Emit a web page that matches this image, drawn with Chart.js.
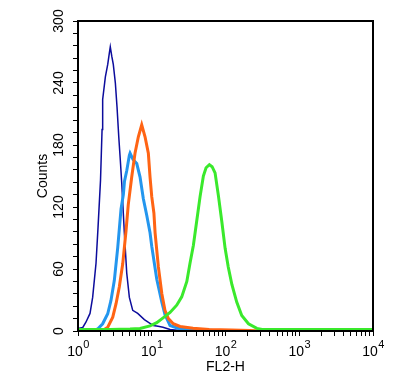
<!DOCTYPE html>
<html><head><meta charset="utf-8">
<script src="https://cdn.jsdelivr.net/npm/chart.js@4.4.1/dist/chart.umd.min.js"></script>
<style>html,body{margin:0;padding:0;background:#fff;}#wrap{width:408px;height:385px;}</style>
</head><body><div id="wrap"><canvas id="c" width="408" height="385"></canvas></div>
<script>
// FL2-H channel positions and counts
const navyX = [1.0, 1.16, 1.28, 1.455, 1.58, 1.755, 1.87, 2.02, 2.12, 2.16, 2.35, 2.53, 2.66, 2.74, 2.87, 3.01, 3.21, 3.38, 3.57, 3.75, 3.92, 4.25, 4.58, 4.97, 5.52, 6.45, 7.94, 10.5, 12.2, 14.2, 17.7, 24.2, 45];
const navyY = [2.4, 3.4, 8.5, 17, 32.5, 65.5, 100.5, 146, 195, 224, 246, 258, 269, 275, 266, 258, 240, 217, 188, 165, 143, 95, 56, 32.5, 20, 17, 11, 5.3, 4.5, 3.7, 1.5, 0.5, 0];

const blueX = [1.6, 1.85, 2.16, 2.53, 2.80, 3.11, 3.46, 3.83, 4.12, 4.27, 4.58, 4.97, 5.08, 5.57, 6.26, 6.94, 7.69, 8.55, 9.48, 10.0, 11.7, 13.7, 15.1, 17.7, 24.2, 36.7, 45, 70, 100];
const blueY = [0.5, 2, 7, 16.7, 29.6, 49, 81, 118, 132, 145, 155, 170, 172, 166, 162, 149, 128, 112, 95, 82, 50, 28, 16, 5.3, 2, 2, 1, 0.5, 0];

const orangeX = [2.0, 2.16, 2.53, 2.96, 3.28, 3.63, 4.04, 4.48, 4.8, 5.35, 5.93, 6.58, 7.31, 8.11, 8.99, 9.48, 10.0, 10.7, 11.1, 12.3, 13.7, 15.1, 16.8, 19.6, 24.2, 36.3, 60, 120, 215, 300];
const orangeY = [0, 0.5, 3.7, 13.4, 26.4, 42.5, 65, 97, 122, 149, 172, 188, 199.5, 188, 172, 149, 130, 114, 95, 62, 36, 20, 12, 7, 4.4, 2.7, 1.5, 1, 0.5, 0];

const greenX = [1.0, 2.72, 5.08, 6.94, 9.48, 11.7, 14.4, 17.7, 21.8, 25.5, 29.9, 33.1, 36.7, 40.8, 45.2, 50.1, 54.5, 60.5, 65.8, 72.2, 80.1, 89.1, 98.8, 109, 122, 142, 166, 205, 266, 314, 550, 10000];
const greenY = [1.5, 1.5, 2, 2.5, 5, 8, 13, 18, 25, 33, 48, 66, 83, 107, 130, 150, 158, 161, 159, 153, 131, 106, 80, 62, 45, 28, 15, 7, 2.5, 1.5, 1.5, 1.5];

// tick labels: 10 with a raised exponent
const xTickValues = [1, 10, 100, 1000, 10000];
const xTickBase = ['10', '10', '10', '10', '10'];
const xTickExp = ['0', '1', '2', '3', '4'];
const yTickValues = [0, 60, 120, 180, 240, 300];
const yTickLabels = ['0', '60', '120', '180', '240', '300'];
const yMinorStep = 12;

const zip = (xs, ys) => xs.map((x, i) => ({x: x, y: ys[i]}));
const FONT = 'Liberation Sans, Arial, Helvetica, sans-serif';

const boxPlugin = {
  id: 'box',
  afterDraw(chart) {
    const a = chart.chartArea, ctx = chart.ctx;
    ctx.save();
    ctx.strokeStyle = '#000';
    ctx.lineWidth = 2;
    ctx.beginPath();
    ctx.moveTo(a.left - 1, a.top);
    ctx.lineTo(a.right, a.top);
    ctx.lineTo(a.right, a.bottom + 1);
    ctx.stroke();
    // x tick labels with superscript exponents
    const xs = chart.scales.x;
    ctx.fillStyle = '#000';
    ctx.textBaseline = 'alphabetic';
    ctx.textAlign = 'left';
    xTickValues.forEach((v, i) => {
      const px = xs.getPixelForValue(v);
      ctx.font = '14px ' + FONT;
      const wb = ctx.measureText(xTickBase[i]).width;
      ctx.font = '11px ' + FONT;
      const we = ctx.measureText(xTickExp[i]).width;
      const x0 = px - (wb + we) / 2;
      ctx.font = '14px ' + FONT;
      ctx.fillText(xTickBase[i], x0, a.bottom + 25);
      ctx.font = '11px ' + FONT;
      ctx.fillText(xTickExp[i], x0 + wb + 0.5, a.bottom + 16.5);
    });
    ctx.restore();
  }
};

new Chart(document.getElementById('c'), {
  type: 'line',
  data: {
    datasets: [
      {label: 'green', data: zip(greenX, greenY), borderColor: '#3ae92c', borderWidth: 3},
      {label: 'orange', data: zip(orangeX, orangeY), borderColor: '#ff6414', borderWidth: 3},
      {label: 'blue', data: zip(blueX, blueY), borderColor: '#2396ee', borderWidth: 3},
      {label: 'navy', data: zip(navyX, navyY), borderColor: '#0c0c9c', borderWidth: 1.5}
    ]
  },
  options: {
    responsive: false,
    animation: false,
    devicePixelRatio: 1,
    elements: {point: {radius: 0}, line: {tension: 0, fill: false}},
    layout: {padding: {left: 0, top: 21, right: 35, bottom: 0}},
    plugins: {legend: {display: false}, tooltip: {enabled: false}},
    scales: {
      x: {
        type: 'logarithmic', min: 1, max: 10000,
        afterBuildTicks: (s) => {
          const t = [];
          for (let d = 1; d < 10000; d *= 10) for (let k = 1; k < 10; k++) t.push({value: d * k});
          t.push({value: 10000});
          s.ticks = t;
        },
        ticks: {
          autoSkip: false, maxRotation: 0, minRotation: 0, padding: 2, color: '#000',
          font: {family: FONT, size: 14},
          callback: () => ''
        },
        grid: {drawOnChartArea: false, drawTicks: true, tickLength: 5, tickColor: '#000', tickWidth: 1},
        border: {display: true, color: '#000', width: 2, z: 1},
        title: {display: true, text: 'FL2-H', color: '#000', font: {family: FONT, size: 14}, padding: {top: 0, bottom: 9}},
        afterFit: (s) => { s.height = 54; }
      },
      y: {
        type: 'linear', min: 0, max: 300,
        ticks: {
          stepSize: yMinorStep, autoSkip: false, minRotation: 90, maxRotation: 90, crossAlign: 'center', padding: 2, color: '#000',
          font: {family: FONT, size: 14},
          callback: (v) => { const i = yTickValues.indexOf(v); return i >= 0 ? yTickLabels[i] : ''; }
        },
        grid: {drawOnChartArea: false, drawTicks: true, tickLength: 5, tickColor: '#000', tickWidth: 1},
        border: {display: true, color: '#000', width: 2, z: 1},
        title: {display: true, text: 'Counts', color: '#000', font: {family: FONT, size: 14}, padding: {top: 35, bottom: 0}},
        afterFit: (s) => { s.width = 78; }
      }
    }
  },
  plugins: [boxPlugin]
});
</script>
</body></html>
